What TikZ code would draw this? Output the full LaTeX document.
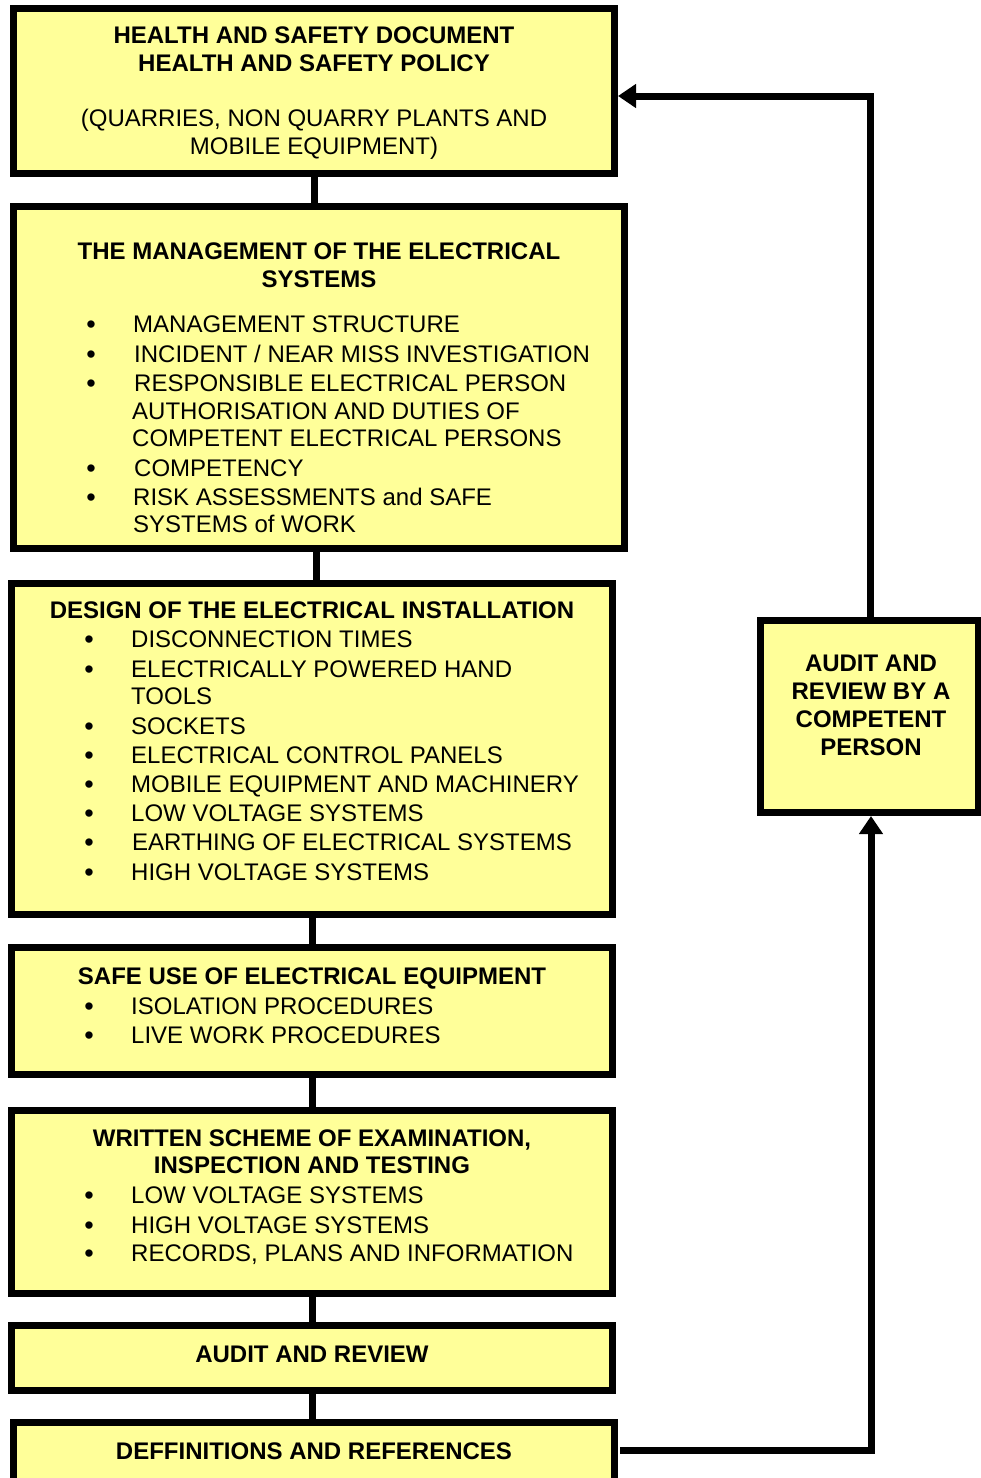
\documentclass[tikz,border=0pt]{standalone}
\usepackage{fontspec}
\setmainfont{Liberation Sans}
\usetikzlibrary{arrows.meta,backgrounds}
\definecolor{boxyellow}{HTML}{FFFF99}
\tikzset{
  box/.style={draw=black, fill=boxyellow, line width=7pt, rectangle, inner sep=0pt},
  txt/.style={inner sep=0pt, font=\fontsize{24}{29.5}\selectfont},
  hd/.style={txt, font=\fontsize{24}{29.5}\selectfont\bfseries, anchor=base},
  bulletmark/.style={inner sep=0pt, font=\fontsize{27}{30}\selectfont, anchor=base},
  link/.style={line width=7pt, line join=miter},
  feedarrow/.style={link, -{Triangle[length=18pt,width=23pt]}}
}
\newcommand{\bitem}[5]{% name, bullet x, text x, base y, text
  \node[bulletmark] (#1b) at (#2,#4+1.2) {•};
  \node[txt,anchor=base west] (#1) at (#3,#4) {#5};}
\newcommand{\contline}[4]{% name, text x, base y, text
  \node[txt,anchor=base west] (#1) at (#2,#3) {#4};}
\begin{document}
\begin{tikzpicture}[x=1pt,y=-1pt]
\useasboundingbox (0,0) rectangle (981,1478);
% boxes
\node[box, minimum width=601pt, minimum height=165pt] (b1) at (314,91) {};
\node[box, minimum width=611pt, minimum height=342pt] (b2) at (319,377.5) {};
\node[box, minimum width=601pt, minimum height=331pt] (b3) at (312,749) {};
\node[box, minimum width=601pt, minimum height=127pt] (b4) at (312,1011) {};
\node[box, minimum width=601pt, minimum height=183pt] (b5) at (312,1202) {};
\node[box, minimum width=601pt, minimum height=65pt] (b6) at (312,1358) {};
\node[box, minimum width=601pt, minimum height=94pt] (b7) at (314,1469.5) {};
\node[box, minimum width=218pt, minimum height=192pt] (r) at (869,716.5) {};
% box 1
\node[hd] (t1a) at (314,43.6) {HEALTH AND SAFETY DOCUMENT};
\node[hd] (t1b) at (314,71.6) {HEALTH AND SAFETY POLICY};
\node[txt,anchor=base] (t1c) at (314,126.6) {(QUARRIES, NON QUARRY PLANTS AND};
\node[txt,anchor=base] (t1d) at (314,154.6) {MOBILE EQUIPMENT)};
% box 2
\node[hd] (t2a) at (319,259.6) {THE MANAGEMENT OF THE ELECTRICAL};
\node[hd] (t2b) at (319,287.6) {SYSTEMS};
\bitem{i21}{91}{133}{332.6}{MANAGEMENT STRUCTURE}
\bitem{i22}{91}{134}{362.6}{INCIDENT / NEAR MISS INVESTIGATION}
\bitem{i23}{91}{134}{391.6}{RESPONSIBLE ELECTRICAL PERSON}
\contline{i23a}{132}{419.6}{AUTHORISATION AND DUTIES OF}
\contline{i23b}{132}{446.6}{COMPETENT ELECTRICAL PERSONS}
\bitem{i24}{91}{134}{476.6}{COMPETENCY}
\bitem{i25}{91}{133}{505.6}{RISK ASSESSMENTS and SAFE}
\contline{i25a}{133}{532.6}{SYSTEMS of WORK}
% box 3
\node[hd] (t3a) at (312,618.6) {DESIGN OF THE ELECTRICAL INSTALLATION};
\bitem{i31}{89}{131}{647.6}{DISCONNECTION TIMES}
\bitem{i32}{89}{131}{677.6}{ELECTRICALLY POWERED HAND}
\contline{i32a}{131}{704.6}{TOOLS}
\bitem{i33}{89}{131}{734.6}{SOCKETS}
\bitem{i34}{89}{131}{763.6}{ELECTRICAL CONTROL PANELS}
\bitem{i35}{89}{131}{792.6}{MOBILE EQUIPMENT AND MACHINERY}
\bitem{i36}{89}{131}{821.6}{LOW VOLTAGE SYSTEMS}
\bitem{i37}{89}{132}{850.6}{EARTHING OF ELECTRICAL SYSTEMS}
\bitem{i38}{89}{131}{880.6}{HIGH VOLTAGE SYSTEMS}
% box 4
\node[hd] (t4a) at (312,984.6) {SAFE USE OF ELECTRICAL EQUIPMENT};
\bitem{i41}{89}{131}{1014.6}{ISOLATION PROCEDURES}
\bitem{i42}{89}{131}{1043.6}{LIVE WORK PROCEDURES}
% box 5
\node[hd] (t5a) at (312,1146.6) {WRITTEN SCHEME OF EXAMINATION,};
\node[hd] (t5b) at (312,1173.6) {INSPECTION AND TESTING};
\bitem{i51}{89}{131}{1203.6}{LOW VOLTAGE SYSTEMS}
\bitem{i52}{89}{131}{1233.6}{HIGH VOLTAGE SYSTEMS}
\bitem{i53}{89}{131}{1261.6}{RECORDS, PLANS AND INFORMATION}
% box 6
\node[hd] (t6a) at (312,1362.6) {AUDIT AND REVIEW};
% box 7
\node[hd] (t7a) at (314,1459.6) {DEFFINITIONS AND REFERENCES};
% right box
\node[hd] (tra) at (871,671.6) {AUDIT AND};
\node[hd] (trb) at (871,699.6) {REVIEW BY A};
\node[hd] (trc) at (871,727.6) {COMPETENT};
\node[hd] (trd) at (871,755.6) {PERSON};
% connectors
\coordinate (tr) at (870,96);
\coordinate (br) at (871,1450);
\begin{scope}[on background layer]
\draw[link] (b1.south) -- (b1.south |- b2.north);
\draw[link] ([xshift=-3pt]b2.south) -- ([xshift=-3pt]b2.south |- b3.north);
\draw[link] (b3.south) -- (b3.south |- b4.north);
\draw[link] (b4.south) -- (b4.south |- b5.north);
\draw[link] (b5.south) -- (b5.south |- b6.north);
\draw[link] (b6.south) -- (b6.south |- b7.north);
\draw[feedarrow] (r.north -| tr) -- (tr) -- (tr -| b1.east);
\draw[feedarrow] ([xshift=2pt]b7.east |- br) -- (br) -- (br |- r.south);
\end{scope}
\end{tikzpicture}
\end{document}
